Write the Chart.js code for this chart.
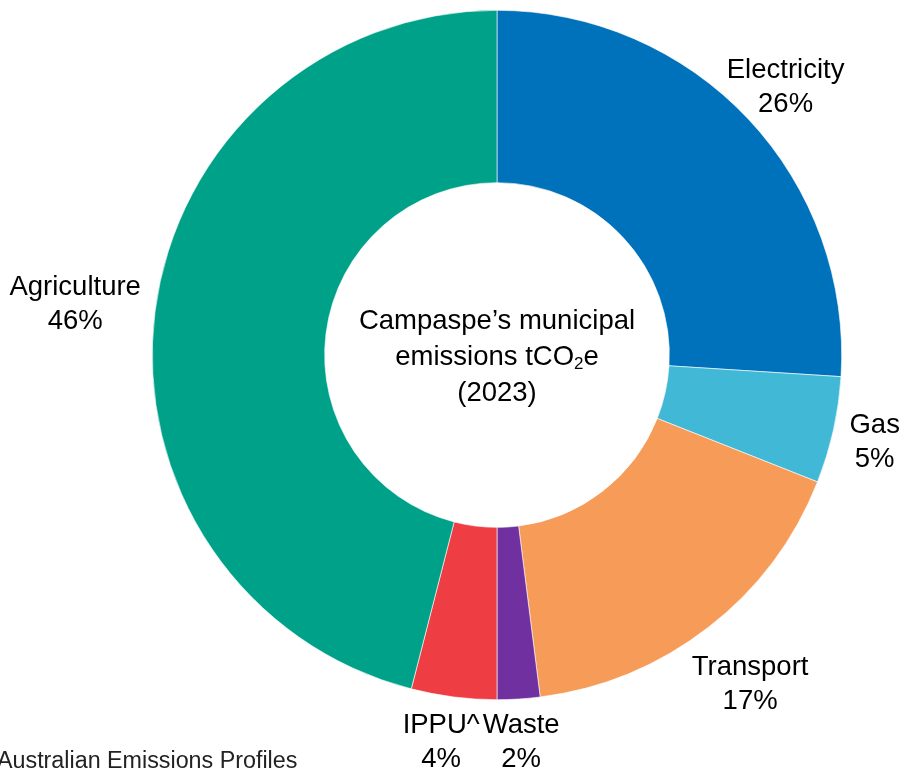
<!DOCTYPE html>
<html>
<head>
<meta charset="utf-8">
<script src="https://cdn.jsdelivr.net/npm/chart.js@4.4.0/dist/chart.umd.min.js"></script>
<style>
  html, body { margin: 0; padding: 0; background: #fff; }
  #wrap { width: 905px; height: 769px; }
</style>
</head>
<body>
<div id="wrap"><canvas id="emissions" width="905" height="769"></canvas></div>
<script>
const sectors = ['Electricity', 'Gas', 'Transport', 'Waste', 'IPPU^', 'Agriculture'];
const shares = [26, 5, 17, 2, 4, 46];
const sectorColours = ['#0072BC', '#41B8D5', '#F79B58', '#7030A0', '#EE3E44', '#00A189'];
const centreLines = ['Campaspe\u2019s municipal', 'emissions tCO|2|e', '(2023)'];
const sourceNote = 'Australian Emissions Profiles';

const FONT = '27.5px "Liberation Sans", Arial, sans-serif';
const SUB_FONT = '17px "Liberation Sans", Arial, sans-serif';

// labels outside each slice, pushed out so the text box clears the ring
const outsideLabels = {
    id: 'outsideLabels',
    afterDatasetsDraw(chart) {
        const ctx = chart.ctx;
        const meta = chart.getDatasetMeta(0);
        const total = shares.reduce((a, b) => a + b, 0);
        ctx.save();
        ctx.font = FONT;
        ctx.fillStyle = '#000';
        ctx.textAlign = 'center';
        ctx.textBaseline = 'middle';
        const boxes = [];
        meta.data.forEach(function (arc, i) {
            const mid = (arc.startAngle + arc.endAngle) / 2;
            const dx = Math.cos(mid), dy = Math.sin(mid);
            const line1 = sectors[i];
            const line2 = Math.round(shares[i] / total * 100) + '%';
            const hw = Math.max(ctx.measureText(line1).width, ctx.measureText(line2).width) / 2;
            const hh = 26;
            let d = arc.outerRadius + 12 + hw * Math.abs(dx) + hh * Math.abs(dy);
            // keep the label box inside the top of the canvas area
            if (dy < 0) {
                const maxD = (arc.y - 34 - 50) / -dy;
                if (d > maxD) d = maxD;
            }
            let x = arc.x + dx * d;
            const y = arc.y + dy * d;
            // nudge sideways if it runs into the previous label
            const prev = boxes[boxes.length - 1];
            if (prev && Math.abs(prev.y - y) < 60) {
                const overlap = (prev.hw + hw + 3) - Math.abs(x - prev.x);
                if (overlap > 0) x += (dx < 0 ? -overlap : overlap);
            }
            boxes.push({ x: x, y: y, hw: hw });
            ctx.fillText(line1, x, y - 14);
            ctx.fillText(line2, x, y + 20);
        });

        // centre text
        const cx = meta.data[0].x, cy = meta.data[0].y;
        centreLines.forEach(function (txt, j) {
            const y = cy + 2 + (j - 1) * 36;
            if (txt.indexOf('|') < 0) {
                ctx.font = FONT;
                ctx.textAlign = 'center';
                ctx.fillText(txt, cx, y);
                return;
            }
            const parts = txt.split('|');
            ctx.font = FONT;
            const w0 = ctx.measureText(parts[0]).width;
            const w2 = ctx.measureText(parts[2]).width;
            ctx.font = SUB_FONT;
            const w1 = ctx.measureText(parts[1]).width;
            let x = cx - (w0 + w1 + w2) / 2;
            ctx.textAlign = 'left';
            ctx.font = FONT;
            ctx.fillText(parts[0], x, y);
            x += w0;
            ctx.font = SUB_FONT;
            ctx.fillText(parts[1], x, y + 7);
            x += w1;
            ctx.font = FONT;
            ctx.fillText(parts[2], x, y);
        });

        // source note, clipped at the left edge like the original
        ctx.font = '23.3px "Liberation Sans", Arial, sans-serif';
        ctx.textAlign = 'left';
        ctx.textBaseline = 'alphabetic';
        ctx.fillStyle = '#222';
        ctx.fillText(sourceNote, -3, 768);
        ctx.restore();
    }
};

const emissionsChart = new Chart(document.getElementById('emissions'), {
    type: 'doughnut',
    data: {
        labels: sectors,
        datasets: [{
            data: shares,
            backgroundColor: sectorColours,
            borderColor: '#ffffff',
            borderWidth: 0.6,
            hoverOffset: 0
        }]
    },
    options: {
        responsive: false,
        animation: false,
        cutout: '50%',
        layout: {
            padding: { left: 152, top: 10, right: 63, bottom: 69 }
        },
        plugins: {
            legend: { display: false },
            tooltip: { enabled: false }
        }
    },
    plugins: [outsideLabels]
});
</script>
</body>
</html>
